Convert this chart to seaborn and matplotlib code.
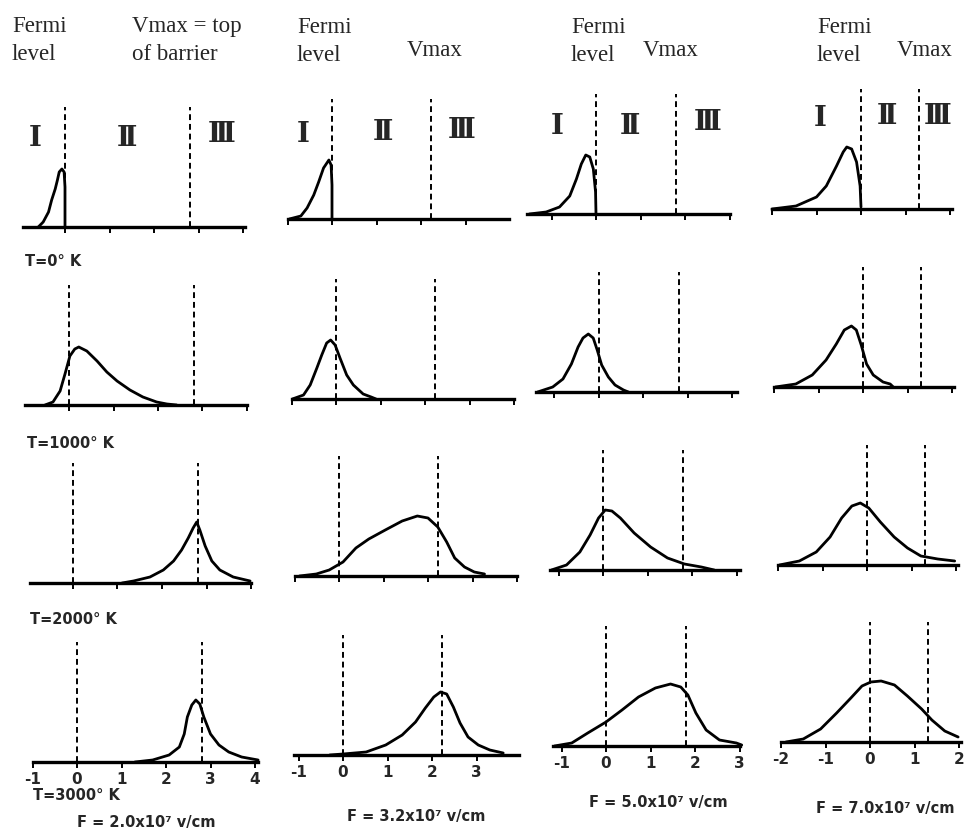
import matplotlib
matplotlib.use("Agg")
import matplotlib.pyplot as plt
import seaborn as sns
import numpy as np

# energy (eV, relative to Fermi level) and relative current
# one list per field column: F = 2.0, 3.2, 5.0, 7.0 x10^7 v/cm
e_t0 = [[-0.6, -0.49, -0.37, -0.3, -0.22, -0.17, -0.13, -0.07, -0.02, 0.0, 0.0],
        [-0.96, -0.7, -0.56, -0.41, -0.3, -0.19, -0.07, -0.02, 0.0, 0.0],
        [-1.5, -1.12, -0.82, -0.59, -0.44, -0.33, -0.23, -0.14, -0.06, -0.01, 0.0],
        [-2.0, -1.46, -1.0, -0.78, -0.55, -0.4, -0.32, -0.21, -0.1, -0.02, 0.0]]
j_t0 = [[0, 0.05, 0.15, 0.27, 0.38, 0.47, 0.55, 0.58, 0.55, 0.4, 0],
        [0, 0.03, 0.11, 0.24, 0.37, 0.51, 0.59, 0.54, 0.34, 0],
        [0, 0.02, 0.07, 0.18, 0.35, 0.5, 0.59, 0.57, 0.45, 0.22, 0],
        [0, 0.03, 0.12, 0.23, 0.43, 0.57, 0.62, 0.6, 0.47, 0.23, 0.02]]

e_t1000 = [[-0.54, -0.36, -0.2, -0.09, 0.02, 0.13, 0.22, 0.4, 0.63, 0.85, 1.08, 1.37, 1.66, 1.97, 2.2, 2.42],
           [-0.98, -0.73, -0.58, -0.43, -0.32, -0.21, -0.12, -0.02, 0.09, 0.24, 0.39, 0.61, 0.79, 0.9],
           [-1.38, -1.04, -0.81, -0.62, -0.47, -0.36, -0.24, -0.13, -0.04, 0.06, 0.21, 0.36, 0.55, 0.66],
           [-1.97, -1.51, -1.14, -0.83, -0.6, -0.42, -0.26, -0.15, -0.04, 0.08, 0.23, 0.45, 0.61, 0.68]]
j_t1000 = [[0, 0.03, 0.14, 0.31, 0.49, 0.56, 0.58, 0.54, 0.44, 0.33, 0.24, 0.15, 0.08, 0.03, 0.01, 0],
           [0, 0.04, 0.14, 0.31, 0.44, 0.56, 0.59, 0.54, 0.41, 0.24, 0.14, 0.05, 0.02, 0],
           [0, 0.05, 0.13, 0.28, 0.45, 0.54, 0.58, 0.54, 0.42, 0.27, 0.15, 0.07, 0.02, 0],
           [0, 0.03, 0.12, 0.27, 0.43, 0.57, 0.61, 0.57, 0.42, 0.23, 0.12, 0.05, 0.03, 0]]

e_t2000 = [[1.1, 1.36, 1.73, 2.03, 2.26, 2.44, 2.59, 2.7, 2.78, 2.85, 2.97, 3.12, 3.3, 3.6, 3.98],
           [-0.89, -0.51, -0.22, 0.09, 0.38, 0.67, 1.04, 1.42, 1.76, 2.0, 2.22, 2.42, 2.6, 2.82, 3.04, 3.27],
           [-1.16, -0.82, -0.52, -0.29, -0.1, 0.05, 0.2, 0.39, 0.7, 1.07, 1.45, 1.83, 2.21, 2.5],
           [-1.97, -1.52, -1.14, -0.83, -0.57, -0.34, -0.15, 0.04, 0.3, 0.61, 0.91, 1.21, 1.59, 1.97]]
j_t2000 = [[0, 0.02, 0.06, 0.13, 0.22, 0.33, 0.45, 0.55, 0.61, 0.53, 0.37, 0.22, 0.13, 0.06, 0.02],
           [0, 0.02, 0.06, 0.14, 0.28, 0.37, 0.46, 0.55, 0.6, 0.58, 0.49, 0.34, 0.18, 0.09, 0.04, 0.02],
           [0, 0.05, 0.18, 0.35, 0.52, 0.6, 0.59, 0.52, 0.37, 0.23, 0.12, 0.06, 0.03, 0],
           [0, 0.04, 0.13, 0.28, 0.47, 0.59, 0.62, 0.57, 0.43, 0.28, 0.17, 0.09, 0.06, 0.04]]

e_t3000 = [[1.3, 1.7, 2.07, 2.3, 2.41, 2.48, 2.58, 2.67, 2.76, 2.85, 3.0, 3.19, 3.41, 3.7, 4.07],
           [-0.3, 0.0, 0.52, 0.96, 1.33, 1.63, 1.85, 2.04, 2.19, 2.33, 2.48, 2.63, 2.81, 3.04, 3.3, 3.6],
           [-1.16, -0.77, -0.41, 0.0, 0.36, 0.73, 1.11, 1.45, 1.68, 1.84, 2.02, 2.25, 2.55, 2.93, 3.05],
           [-1.89, -1.5, -1.11, -0.75, -0.43, -0.18, 0.02, 0.25, 0.55, 0.84, 1.16, 1.39, 1.68, 1.98]]
j_t3000 = [[0, 0.02, 0.07, 0.15, 0.28, 0.45, 0.57, 0.62, 0.58, 0.45, 0.28, 0.17, 0.1, 0.05, 0.02],
           [0, 0.01, 0.03, 0.1, 0.2, 0.33, 0.47, 0.58, 0.63, 0.61, 0.48, 0.32, 0.18, 0.1, 0.05, 0.02],
           [0, 0.03, 0.13, 0.24, 0.36, 0.49, 0.58, 0.62, 0.59, 0.51, 0.33, 0.16, 0.06, 0.03, 0.01],
           [0, 0.03, 0.13, 0.29, 0.44, 0.56, 0.6, 0.61, 0.57, 0.46, 0.33, 0.22, 0.11, 0.05]]

energies = [e_t0, e_t1000, e_t2000, e_t3000]
currents = [j_t0, j_t1000, j_t2000, j_t3000]

fermi = 0.0
vmax = [2.8, 2.22, 1.8, 1.3]
temps = ["T=0° K", "T=1000° K", "T=2000° K", "T=3000° K"]
fields = ["F = 2.0x10⁷ v/cm", "F = 3.2x10⁷ v/cm", "F = 5.0x10⁷ v/cm", "F = 7.0x10⁷ v/cm"]
regions = ["Ⅰ", "Ⅱ", "Ⅲ"]

# layout of the scanned page, in pixels
W, H = 964, 840
fermi_px = [[65, 332, 596, 861], [69, 336, 599, 863], [73, 339, 603, 867], [77, 343, 606, 870]]
base_px = [[227, 219, 214, 209], [405, 399, 392, 387], [583, 576, 570, 565], [762, 755, 746, 742]]
xlo = [[-0.95, -1.0, -1.55, -2.0], [-0.98, -1.0, -1.42, -2.0], [-0.96, -1.0, -1.2, -2.0], [-1.0, -1.1, -1.2, -2.0]]
xhi = [[4.05, 3.98, 3.0, 2.05], [4.0, 4.0, 3.1, 2.05], [4.0, 4.0, 3.07, 2.05], [4.07, 3.95, 3.0, 2.05]]
scale = 44.5
ax_h = 130

sns.set_theme(style="white")
plt.rcParams['font.family'] = ['DejaVu Sans']
fig = plt.figure(figsize=(W / 100, H / 100), dpi=100)


def ptxt(x, y, s, **kw):
    fig.text(x / W, 1 - y / H, s, **kw)


for r in range(4):
    for c in range(4):
        lo, hi = xlo[r][c], xhi[r][c]
        left = fermi_px[r][c] + lo * scale
        ax = fig.add_axes([left / W, 1 - base_px[r][c] / H,
                           (hi - lo) * scale / W, ax_h / H])
        ax.set_facecolor('none')
        sns.lineplot(x=energies[r][c], y=currents[r][c], ax=ax, color='black',
                     lw=2.0, sort=False, estimator=None, clip_on=False)
        for v in (fermi, vmax[c]):
            ax.axvline(v, 0, 1.2 / 1.3, color='black', lw=1.4, ls=(0, (3, 2)))
        ax.set_xlim(lo, hi)
        ax.set_ylim(0, 1.3)
        sns.despine(ax=ax, left=True, top=True, right=True)
        ax.spines['bottom'].set_linewidth(2.4)
        ax.spines['bottom'].set_color('black')
        ax.set_xticks(np.arange(np.ceil(lo), np.floor(hi) + 1))
        ax.set_yticks([])
        ax.tick_params(axis='x', direction='out', length=4, width=1.4, color='black',
                       bottom=True, pad=3)
        if r == 3:
            ax.set_xticklabels([f"{int(t)}" for t in ax.get_xticks()],
                               fontsize=11, fontweight='bold')
        else:
            ax.set_xticklabels([])
        ax.set_xlabel('')
        ax.set_ylabel('')

# headers
serif = dict(family=['Liberation Serif', 'DejaVu Serif'], fontsize=16.5, va='baseline')
ptxt(12, 32, "Fermi", **serif)
ptxt(12, 60, "level", **serif)
ptxt(132, 32, "Vmax = top", **serif)
ptxt(132, 60, "of barrier", **serif)
for fx, vx in [(297, 407), (571, 643), (817, 897)]:
    ptxt(fx, 33, "Fermi", **serif)
    ptxt(fx, 61, "level", **serif)
    ptxt(vx, 56, "Vmax", **serif)

# region labels in the T=0 row
roman = dict(family=['DejaVu Serif', 'DejaVu Sans'], fontsize=20, fontweight='bold',
             ha='center', va='center')
reg_pos = [[(35, 138), (127, 138), (222, 135)],
           [(303, 135), (383, 133), (462, 130)],
           [(557, 127), (630, 127), (708, 123)],
           [(820, 118), (887, 117), (938, 117)]]
for col in reg_pos:
    for (x, y), s in zip(col, regions):
        ptxt(x, y, s, **roman)

# temperatures and fields
lab = dict(fontsize=10.5, fontweight='bold', va='center')
for (x, y), s in zip([(25, 262), (27, 443), (30, 620), (33, 795)], temps):
    ptxt(x, y, s, **lab)
for (x, y), s in zip([(146, 823), (416, 817), (658, 803), (885, 808)], fields):
    ptxt(x, y, s, ha='center', **lab)

plt.savefig('out.png', dpi=100)
